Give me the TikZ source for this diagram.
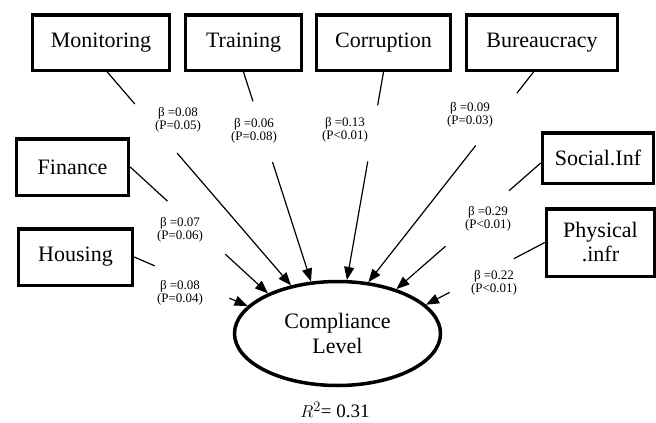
\documentclass[tikz,border=0pt]{standalone}
\usepackage{fontspec}
\setmainfont{Liberation Serif}
\usetikzlibrary{arrows.meta, calc, shapes.geometric}
\tikzset{
  >={Triangle[length=13pt,width=10pt]},
  % Variabili osservate e dipendente
  var/.style={draw,line width=3.5pt,inner sep=2pt,align=center,font=\fontsize{22}{24}\selectfont},
  dep/.style={draw,ellipse,line width=3.5pt,minimum width=206pt,minimum height=104pt,inner sep=0pt,align=center,font=\fontsize{22}{25}\selectfont},
  coef/.style={align=center,inner sep=1pt,font=\fontsize{13}{13}\selectfont},
  link/.style={line width=1.2pt}
}

\begin{document}
\begin{tikzpicture}[x=1pt,y=-1pt]
        \useasboundingbox (0,0) rectangle (656,423);
        \node[var,minimum width=137pt,minimum height=55.5pt] (mon) at (101,42.5) {Monitoring};
        \node[var,minimum width=116pt,minimum height=55.5pt] (trn) at (243.5,42.5) {Training};
        \node[var,minimum width=134pt,minimum height=55.5pt] (cor) at (383.5,42.5) {Corruption};
        \node[var,minimum width=151pt,minimum height=55.5pt] (bur) at (542,42.5) {Bureaucracy};
        \node[var,minimum width=111pt,minimum height=50.5pt] (soc) at (598,158) {Social.Inf};
        \node[var,minimum width=108pt,minimum height=67.5pt] (phy) at (600.5,242.5) {Physical\\.infr};
        \node[var,minimum width=112pt,minimum height=56.5pt] (fin) at (72.5,167) {Finance};
        \node[var,minimum width=114pt,minimum height=56.5pt] (hou) at (75.5,257) {Housing};
        \node[dep] (cl) at (337.5,333.5) {Compliance\\Level};
        \node[font=\fontsize{19}{20}\selectfont] (r2) at (335,410) {$R^2$= 0.31};
        \node[coef] (c1) at (178,120) {β =0.08\\(P=0.05)};
        \node[coef] (c2) at (254,131) {β =0.06\\(P=0.08)};
        \node[coef] (c3) at (345,130) {β =0.13\\(P<0.01)};
        \node[coef] (c4) at (470,115) {β =0.09\\(P=0.03)};
        \node[coef] (c5) at (488,219) {β =0.29\\(P<0.01)};
        \node[coef] (c6) at (494,283) {β =0.22\\(P<0.01)};
        \node[coef] (c7) at (180,230) {β =0.07\\(P=0.06)};
        \node[coef] (c8) at (180,293) {β =0.08\\(P=0.04)};
        \draw[link] (mon.-78) -- ($(mon.-78)!.15!(cl.134)$);
        \draw[link,->] ($(mon.-78)!.38!(cl.134)$) -- (cl.134);
        \draw[link] (trn.south) -- ($(trn.south)!.14!(cl.117)$);
        \draw[link,->] ($(trn.south)!.43!(cl.117)$) -- (cl.117);
        \draw[link] (cor.south) -- ($(cor.south)!.16!(cl.80)$);
        \draw[link,->] ($(cor.south)!.43!(cl.80)$) -- (cl.80);
        \draw[link] (bur.-106) -- ($(bur.-106)!.10!(cl.59)$);
        \draw[link,->] ($(bur.-106)!.35!(cl.59)$) -- (cl.59);
        \draw[link] (soc.185) -- ($(soc.185)!.22!(cl.37)$);
        \draw[link,->] ($(soc.185)!.66!(cl.37)$) -- (cl.37);
        \draw[link] (phy.west) -- ($(phy.west)!.26!(cl.18)$);
        \draw[link,->] ($(phy.west)!.80!(cl.18)$) -- (cl.18);
        \draw[link] (fin.east) -- ($(fin.east)!.27!(cl.150)$);
        \draw[link,->] ($(fin.east)!.69!(cl.150)$) -- (cl.150);
        \draw[link] (hou.east) -- ($(hou.east)!.18!(cl.163)$);
        \draw[link,->] ($(hou.east)!.84!(cl.163)$) -- (cl.163);
      \end{tikzpicture}
\end{document}
